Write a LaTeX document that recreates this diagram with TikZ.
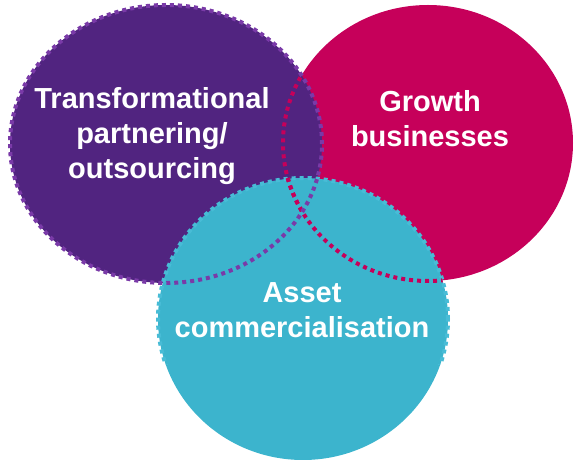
\documentclass[tikz,border=0pt]{standalone}
\usepackage{fontspec}
\setmainfont{Liberation Sans}
\usepackage{xcolor}
\usepackage{tikz}
\definecolor{PurpleTrans}{RGB}{81,36,128}
\definecolor{PurpleDots}{RGB}{122,58,168}
\definecolor{MagentaGrowth}{RGB}{198,0,90}
\definecolor{CyanAsset}{RGB}{60,180,205}
\definecolor{CyanDots}{RGB}{72,188,214}

\begin{document}
\begin{tikzpicture}[x=1pt,y=-1pt,
  ring/.style={line width=4pt,dash pattern=on 4pt off 4pt},
  circletext/.style={text=white,font=\bfseries\fontsize{29}{35}\selectfont,align=center}]
  \useasboundingbox (0,0) rectangle (574,462);

  \coordinate (P) at (166,144);
  \coordinate (G) at (428,143);
  \coordinate (A) at (303,319);

  % fills first, outlines on top of all three
  \fill[MagentaGrowth] (G) ellipse [x radius=145pt,y radius=138pt];
  \fill[PurpleTrans] (P) ellipse [x radius=156pt,y radius=139pt];
  \fill[CyanAsset] (A) ellipse [x radius=145pt,y radius=141pt];

  % cyan dots only on the upper part
  \begin{scope}
    \clip (0,0) rectangle (574,365);
    \draw[ring,CyanDots] (A) ellipse [x radius=145pt,y radius=141pt];
  \end{scope}
  % magenta dots only where they cross the other two
  \begin{scope}
    \clip (P) ellipse [x radius=156pt,y radius=139pt];
    \draw[ring,MagentaGrowth] (G) ellipse [x radius=145pt,y radius=138pt];
  \end{scope}
  \begin{scope}
    \clip (A) ellipse [x radius=145pt,y radius=141pt];
    \draw[ring,MagentaGrowth] (G) ellipse [x radius=145pt,y radius=138pt];
  \end{scope}
  \draw[ring,PurpleDots] (P) ellipse [x radius=156pt,y radius=139pt];

  \node[circletext] (trans) at (152,136) {Transformational\\partnering/\\outsourcing};
  \node[circletext] (growth) at (430,119) {Growth\\businesses};
  \node[circletext] (asset) at (302,310) {Asset\\commercialisation};
\end{tikzpicture}
\end{document}
